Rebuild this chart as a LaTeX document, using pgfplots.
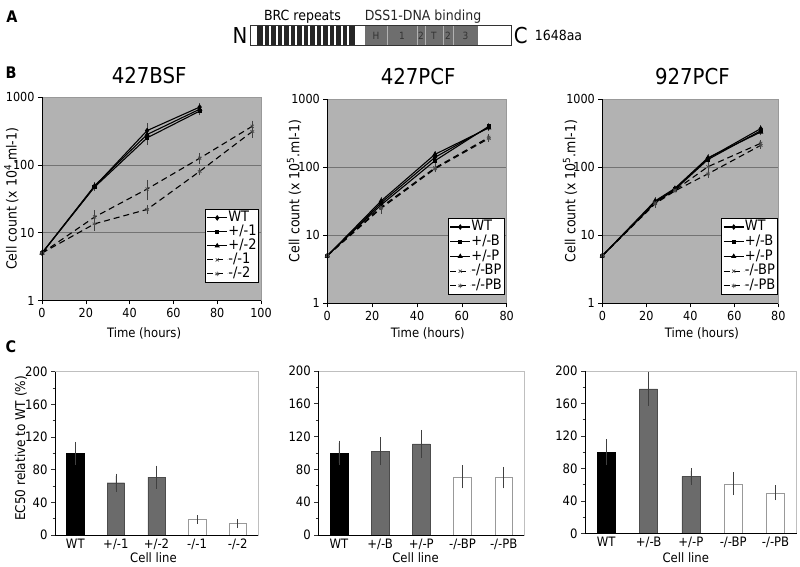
\documentclass[border=0pt]{standalone}
\usepackage{pgfplots}
\pgfplotsset{compat=1.18}
\usetikzlibrary{plotmarks}
\usepackage{fontspec}
\setmainfont{DejaVu Sans Condensed}

\pgfplotsset{
  /pgf/number format/assume math mode=true,
  wt/.style={black, line width=1.1bp, mark=diamond*, mark size=2bp},
  hone/.style={black, line width=1.1bp, mark=square*, mark size=1.6bp},
  htwo/.style={black, line width=1.1bp, mark=triangle*, mark size=2bp},
  kone/.style={black, line width=1.1bp, dash pattern=on 6bp off 4bp, mark=x, mark size=2.2bp, mark options={solid, black!70, line width=0.7bp}},
  ktwo/.style={black, line width=1.1bp, dash pattern=on 6bp off 4bp, mark=asterisk, mark size=2.2bp, mark options={solid, black!70, line width=0.7bp}},
}

\begin{document}
\begin{tikzpicture}[x=1bp,y=1bp]
\useasboundingbox (0,0) rectangle (800,567);

% panel letters
\node[font=\fontsize{16}{16}\selectfont\bfseries] at (12,550) {A};
\node[font=\fontsize{16}{16}\selectfont\bfseries] at (11,494) {B};
\node[font=\fontsize{16}{16}\selectfont\bfseries] at (11,220) {C};

% ---------------- Panel A: domain map ----------------
\begin{axis}[at={(250.7bp,521.3bp)}, anchor=south west, scale only axis,
  width=261bp, height=20bp, xmin=0, xmax=1648, ymin=0, ymax=1,
  hide axis, clip=false]
\addplot[fill=white, draw=none] coordinates {(0,0) (1648,0) (1648,1) (0,1)} -- cycle;
\addplot[fill=black!85, draw=none] coordinates {(40,0) (658,0) (658,1) (40,1)} -- cycle;
\addplot[ycomb, white, line width=2bp, no marks] coordinates {
  (81,1) (122,1) (164,1) (205,1) (246,1) (287,1) (328,1)
  (370,1) (411,1) (452,1) (493,1) (534,1) (576,1) (617,1)};
\addplot[fill=black!57, draw=none] coordinates {(722,0) (1435,0) (1435,1) (722,1)} -- cycle;
\addplot[ycomb, black!30, line width=0.8bp, no marks] coordinates {
  (861,1) (1050,1) (1101,1) (1214,1) (1277,1)};
\draw[black!80, line width=0.9bp] (axis cs:0,0) rectangle (axis cs:1648,1);
\node[font=\fontsize{10}{10}\selectfont, text=black!80] at (axis cs:791,0.5) {H};
\node[font=\fontsize{10}{10}\selectfont, text=black!80] at (axis cs:955,0.5) {1};
\node[font=\fontsize{10}{10}\selectfont, text=black!80] at (axis cs:1075,0.5) {2};
\node[font=\fontsize{10}{10}\selectfont, text=black!80] at (axis cs:1157,0.5) {T};
\node[font=\fontsize{10}{10}\selectfont, text=black!80] at (axis cs:1245,0.5) {2};
\node[font=\fontsize{10}{10}\selectfont, text=black!80] at (axis cs:1356,0.5) {3};
\node[anchor=east, font=\fontsize{22}{22}\selectfont, inner sep=0pt] at (axis cs:-20,0.5) {N};
\node[anchor=west, font=\fontsize{22}{22}\selectfont, inner sep=0pt] at (axis cs:1660,0.5) {C};
\node[anchor=west, font=\fontsize{14}{14}\selectfont, inner sep=0pt] at (axis cs:1793,0.5) {1648aa};
\node[font=\fontsize{14}{14}\selectfont, anchor=base] at (axis cs:327,1.25) {BRC repeats};
\node[font=\fontsize{14}{14}\selectfont, anchor=base, text=black!85] at (axis cs:1088,1.25) {DSS1-DNA binding};
\end{axis}

% ---------------- Panel B1: 427BSF ----------------
\begin{axis}[at={(42bp,266.5bp)}, anchor=south west, scale only axis,
  width=219bp, height=203.5bp,
  ymode=log, ymin=1, ymax=1000, xmin=0, xmax=100, xtick={0,20,...,100},
  ytick={1,10,100,1000}, yticklabels={1,10,100,1000},
  yminorticks=false, xminorticks=false,
  axis background/.style={fill=black!30},
  ymajorgrids, grid style={black!55, line width=0.6bp},
  axis line style={black!40, line width=0.6bp},
  tick align=outside, xtick pos=left, ytick pos=left,
  major tick length=4bp, tick style={black, line width=0.6bp},
  ticklabel style={font=\fontsize{12.5}{13}\selectfont},
  xlabel style={font=\fontsize{13}{13}\selectfont}, ylabel style={font=\fontsize{14}{14}\selectfont},
  title={427BSF}, title style={font=\fontsize{22}{22}\selectfont, anchor=center, at={(axis description cs:0.489,1.074)}},
  xlabel={Time (hours)}, xlabel style={at={(axis description cs:0.466,-0.16)}, anchor=center},
  ylabel={Cell count (x 10\textsuperscript{4}.ml-1)}, ylabel style={at={(axis description cs:-0.14,0.5)}, anchor=center},
  legend style={at={(1,0)}, anchor=south east, xshift=-2bp, yshift=17.8bp, draw=black, line width=0.6bp, fill=white,
    font=\fontsize{14.5}{14.5}\selectfont, inner sep=1.5bp, row sep=0bp,
    nodes={inner sep=0.6bp, text height=10bp, text depth=2.8bp}, cells={anchor=west}},
  legend image code/.code={\draw[mark repeat=2,mark phase=2,#1] plot coordinates {(0bp,0bp) (10bp,0bp) (20bp,0bp)};},
  after end axis/.code={\draw[black, line width=0.8bp] (rel axis cs:0,1) -- (rel axis cs:0,0) -- (rel axis cs:1,0);},
  error bars/y dir=both, error bars/y explicit,
  error bars/error bar style={black!75, line width=0.6bp, solid},
  error bars/error mark options={black!75, line width=0.6bp, mark size=2bp, solid}]
\addplot[wt] coordinates {(0,5) (24,48) +- (0,4) (48,320) +- (0,60) (72,710) +- (0,50)};
\addplot[hone] coordinates {(0,5) (24,47) +- (0,3) (48,250) +- (0,40) (72,620) +- (0,40)};
\addplot[htwo] coordinates {(0,5) (24,49) +- (0,3) (48,280) +- (0,50) (72,660) +- (0,40)};
\addplot[kone] coordinates {(0,5) (24,17) +- (0,3) (48,44) +- (0,12) (72,125) +- (0,15) (96,370) +- (0,50)};
\addplot[ktwo] coordinates {(0,5) (24,13.5) +- (0,2) (48,22) +- (0,2) (72,80) +- (0,5) (96,310) +- (0,40)};
\legend{WT,+/-1,+/-2,-/-1,-/-2}
\end{axis}

% ---------------- Panel B2: 427PCF ----------------
\begin{axis}[at={(327.3bp,263.7bp)}, anchor=south west, scale only axis,
  width=179.4bp, height=204bp,
  ymode=log, ymin=1, ymax=1000, xmin=0, xmax=80, xtick={0,20,...,80},
  ytick={1,10,100,1000}, yticklabels={1,10,100,1000},
  yminorticks=false, xminorticks=false,
  axis background/.style={fill=black!30},
  ymajorgrids, grid style={black!55, line width=0.6bp},
  axis line style={black!40, line width=0.6bp},
  tick align=outside, xtick pos=left, ytick pos=left,
  major tick length=4bp, tick style={black, line width=0.6bp},
  ticklabel style={font=\fontsize{12.5}{13}\selectfont},
  xlabel style={font=\fontsize{13}{13}\selectfont}, ylabel style={font=\fontsize{14}{14}\selectfont},
  title={427PCF}, title style={font=\fontsize{22}{22}\selectfont, anchor=center, at={(axis description cs:0.506,1.081)}},
  xlabel={Time (hours)}, xlabel style={at={(axis description cs:0.56,-0.15)}, anchor=center},
  ylabel={Cell count (x 10\textsuperscript{5}.ml-1)}, ylabel style={at={(axis description cs:-0.185,0.55)}, anchor=center},
  legend style={at={(1,0)}, anchor=south east, xshift=-2.4bp, yshift=8.3bp, draw=black, line width=0.6bp, fill=white,
    font=\fontsize{14.5}{14.5}\selectfont, inner sep=1.5bp, row sep=0bp,
    nodes={inner sep=0.6bp, text height=10.5bp, text depth=3bp}, cells={anchor=west}},
  legend image code/.code={\draw[mark repeat=2,mark phase=2,#1] plot coordinates {(0bp,0bp) (10bp,0bp) (20bp,0bp)};},
  after end axis/.code={\draw[black, line width=0.8bp] (rel axis cs:0,1) -- (rel axis cs:0,0) -- (rel axis cs:1,0);},
  error bars/y dir=both, error bars/y explicit,
  error bars/error bar style={black!75, line width=0.6bp, solid},
  error bars/error mark options={black!75, line width=0.6bp, mark size=2bp, solid}]
\addplot[wt] coordinates {(0,5) (24,30) +- (0,2) (48,140) +- (0,8) (72,390) +- (0,15)};
\addplot[hone] coordinates {(0,5) (24,28) +- (0,2) (48,125) +- (0,8) (72,400) +- (0,20)};
\addplot[htwo] coordinates {(0,5) (24,32) +- (0,2) (48,155) +- (0,8) (72,380) +- (0,15)};
\addplot[kone] coordinates {(0,5) (24,26) +- (0,3) (48,98) +- (0,5) (72,275) +- (0,12)};
\addplot[ktwo] coordinates {(0,5) (24,25) +- (0,3) (48,95) +- (0,5) (72,265) +- (0,12)};
\legend{WT,+/-B,+/-P,-/-BP,-/-PB}
\end{axis}

% ---------------- Panel B3: 927PCF ----------------
\begin{axis}[at={(602.3bp,263.7bp)}, anchor=south west, scale only axis,
  width=176bp, height=204bp,
  ymode=log, ymin=1, ymax=1000, xmin=0, xmax=80, xtick={0,20,...,80},
  ytick={1,10,100,1000}, yticklabels={1,10,100,1000},
  yminorticks=false, xminorticks=false,
  axis background/.style={fill=black!30},
  ymajorgrids, grid style={black!55, line width=0.6bp},
  axis line style={black!40, line width=0.6bp},
  tick align=outside, xtick pos=left, ytick pos=left,
  major tick length=4bp, tick style={black, line width=0.6bp},
  ticklabel style={font=\fontsize{12.5}{13}\selectfont},
  xlabel style={font=\fontsize{13}{13}\selectfont}, ylabel style={font=\fontsize{14}{14}\selectfont},
  title={927PCF}, title style={font=\fontsize{22}{22}\selectfont, anchor=center, at={(axis description cs:0.512,1.081)}},
  xlabel={Time (hours)}, xlabel style={at={(axis description cs:0.566,-0.147)}, anchor=center},
  ylabel={Cell count (x 10\textsuperscript{5}.ml-1)}, ylabel style={at={(axis description cs:-0.183,0.55)}, anchor=center},
  legend style={at={(1,0)}, anchor=south east, xshift=-0.5bp, yshift=8.3bp, draw=black, line width=0.6bp, fill=white,
    font=\fontsize{14.5}{14.5}\selectfont, inner sep=1.5bp, row sep=0bp,
    nodes={inner sep=0.6bp, text height=10.5bp, text depth=3bp}, cells={anchor=west}},
  legend image code/.code={\draw[mark repeat=2,mark phase=2,#1] plot coordinates {(0bp,0bp) (10bp,0bp) (20bp,0bp)};},
  after end axis/.code={\draw[black, line width=0.8bp] (rel axis cs:0,1) -- (rel axis cs:0,0) -- (rel axis cs:1,0);},
  error bars/y dir=both, error bars/y explicit,
  error bars/error bar style={black!75, line width=0.6bp, solid},
  error bars/error mark options={black!75, line width=0.6bp, mark size=2bp, solid}]
\addplot[wt] coordinates {(0,5) (24,31) +- (0,2) (33,48) (48,135) +- (0,8) (72,370) +- (0,15)};
\addplot[hone] coordinates {(0,5) (24,30) +- (0,2) (33,47) (48,130) +- (0,8) (72,345) +- (0,15)};
\addplot[htwo] coordinates {(0,5) (24,32) +- (0,2) (33,49) (48,138) +- (0,8) (72,330) +- (0,15)};
\addplot[kone] coordinates {(0,5) (24,30) +- (0,2) (33,46) (48,102) +- (0,6) (72,225) +- (0,12)};
\addplot[ktwo] coordinates {(0,5) (24,29) +- (0,2) (33,45) (48,80) +- (0,5) (72,210) +- (0,10)};
\legend{WT,+/-B,+/-P,-/-BP,-/-PB}
\end{axis}

% ---------------- Panel C1 ----------------
\begin{axis}[at={(55bp,32bp)}, anchor=south west, scale only axis,
  width=203bp, height=163.3bp,
  xmin=-0.5, xmax=4.5, ymin=0, ymax=200,
  ytick={0,40,...,200}, minor y tick num=1,
  xtick={0,1,2,3,4}, xtick style={draw=none},
  xticklabels={WT,+/-1,+/-2,-/-1,-/-2},
  axis line style={black!25, line width=0.6bp},
  tick align=outside, ytick pos=left, xtick pos=left,
  major tick length=4bp, minor tick length=2.5bp,
  tick style={black!80, line width=0.6bp},
  yticklabel style={font=\fontsize{13}{13}\selectfont},
  xticklabel style={font=\fontsize{13}{13}\selectfont, yshift=3.5bp},
  label style={font=\fontsize{13}{13}\selectfont},
  xlabel={Cell line}, xlabel style={at={(axis description cs:0.485,-0.138)}, anchor=center},
  ylabel={EC50 relative to WT (\%)}, ylabel style={font=\fontsize{13.5}{13.5}\selectfont, at={(axis description cs:-0.168,0.53)}, anchor=center},
  after end axis/.code={\draw[black, line width=0.8bp] (rel axis cs:0,1) -- (rel axis cs:0,0) -- (rel axis cs:1,0);},
  error bars/y dir=both, error bars/y explicit,
  error bars/error bar style={black!75, line width=0.6bp},
  error bars/error mark options={black!75, line width=0.6bp, mark size=2.5bp}]
\addplot[ybar, bar width=0.43, bar shift=0pt, fill=black, draw=black] coordinates {(0,100) +- (0,11)};
\addplot[ybar, bar width=0.43, bar shift=0pt, fill=black!58, draw=black!70] coordinates {(1,64) +- (0,8) (2,71) +- (0,11)};
\addplot[ybar, bar width=0.43, bar shift=0pt, fill=white, draw=black!40] coordinates {(3,19) +- (0,2) (4,14) +- (0,2.5)};
\end{axis}

% ---------------- Panel C2 ----------------
\begin{axis}[at={(318.3bp,32bp)}, anchor=south west, scale only axis,
  width=206bp, height=164bp,
  xmin=-0.5, xmax=4.5, ymin=0, ymax=200,
  ytick={0,40,...,200}, minor y tick num=1,
  xtick={0,1,2,3,4}, xtick style={draw=none},
  xticklabels={WT,+/-B,+/-P,-/-BP,-/-PB},
  axis line style={black!25, line width=0.6bp},
  tick align=outside, ytick pos=left, xtick pos=left,
  major tick length=4bp, minor tick length=2.5bp,
  tick style={black!80, line width=0.6bp},
  yticklabel style={font=\fontsize{13}{13}\selectfont},
  xticklabel style={font=\fontsize{13}{13}\selectfont, yshift=3.5bp},
  label style={font=\fontsize{13}{13}\selectfont},
  xlabel={Cell line}, xlabel style={at={(axis description cs:0.472,-0.138)}, anchor=center},
  after end axis/.code={\draw[black, line width=0.8bp] (rel axis cs:0,1) -- (rel axis cs:0,0) -- (rel axis cs:1,0);},
  error bars/y dir=both, error bars/y explicit,
  error bars/error bar style={black!75, line width=0.6bp},
  error bars/error mark options={black!75, line width=0.6bp, mark size=2.5bp}]
\addplot[ybar, bar width=0.43, bar shift=0pt, fill=black, draw=black] coordinates {(0,100) +- (0,12)};
\addplot[ybar, bar width=0.43, bar shift=0pt, fill=black!58, draw=black!70] coordinates {(1,102) +- (0,14) (2,111) +- (0,14)};
\addplot[ybar, bar width=0.43, bar shift=0pt, fill=white, draw=black!40] coordinates {(3,71) +- (0,11) (4,70) +- (0,10)};
\end{axis}

% ---------------- Panel C3 ----------------
\begin{axis}[at={(585bp,33.7bp)}, anchor=south west, scale only axis,
  width=211.7bp, height=162.3bp,
  xmin=-0.5, xmax=4.5, ymin=0, ymax=200,
  ytick={0,40,...,200}, minor y tick num=1,
  xtick={0,1,2,3,4}, xtick style={draw=none},
  xticklabels={WT,+/-B,+/-P,-/-BP,-/-PB},
  axis line style={black!25, line width=0.6bp},
  tick align=outside, ytick pos=left, xtick pos=left,
  major tick length=4bp, minor tick length=2.5bp,
  tick style={black!80, line width=0.6bp},
  yticklabel style={font=\fontsize{13}{13}\selectfont},
  xticklabel style={font=\fontsize{13}{13}\selectfont, yshift=3.5bp},
  label style={font=\fontsize{13}{13}\selectfont},
  xlabel={Cell line}, xlabel style={at={(axis description cs:0.476,-0.15)}, anchor=center},
  after end axis/.code={\draw[black, line width=0.8bp] (rel axis cs:0,1) -- (rel axis cs:0,0) -- (rel axis cs:1,0);},
  error bars/y dir=both, error bars/y explicit,
  error bars/error bar style={black!75, line width=0.6bp},
  error bars/error mark options={black!75, line width=0.6bp, mark size=2.5bp}]
\addplot[ybar, bar width=0.43, bar shift=0pt, fill=black, draw=black] coordinates {(0,100) +- (0,13)};
\addplot[ybar, bar width=0.43, bar shift=0pt, fill=black!58, draw=black!70] coordinates {(1,178) +- (0,18) (2,70) +- (0,7)};
\addplot[ybar, bar width=0.43, bar shift=0pt, fill=white, draw=black!40] coordinates {(3,61) +- (0,11) (4,50) +- (0,6)};
\end{axis}

\end{tikzpicture}
\end{document}
